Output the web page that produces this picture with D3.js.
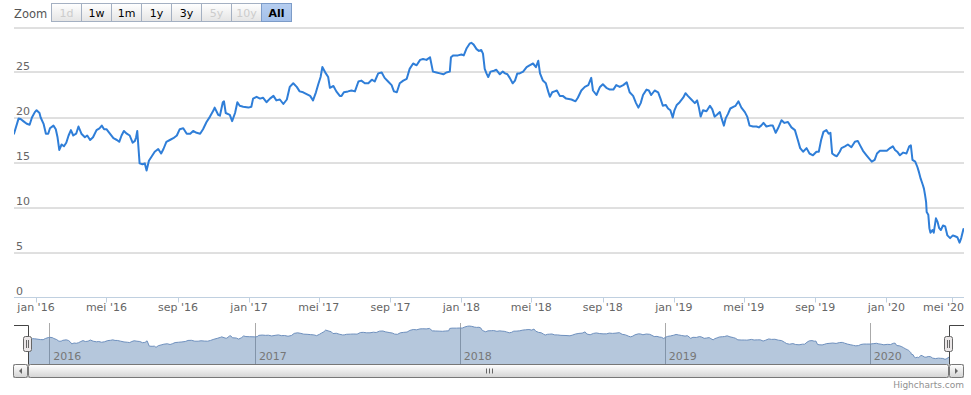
<!DOCTYPE html>
<html>
<head>
<meta charset="utf-8">
<script src="https://cdn.jsdelivr.net/npm/d3@7"></script>
<style>
  body { margin: 0; background: #fff; }
  svg { display: block; font-family: "DejaVu Sans", Verdana, sans-serif; }
</style>
</head>
<body>
<svg id="chart" width="971" height="395"></svg>
<script>
// koers
const dates = [
  '2015-11-24','2015-12-02','2015-12-06','2015-12-10','2015-12-16','2015-12-21','2015-12-25','2015-12-30',
  '2016-01-02','2016-01-07','2016-01-09','2016-01-14','2016-01-18','2016-01-22','2016-01-25','2016-01-31',
  '2016-02-04','2016-02-07','2016-02-10','2016-02-14','2016-02-18','2016-02-22','2016-02-26','2016-03-01',
  '2016-03-05','2016-03-10','2016-03-14','2016-03-19','2016-03-25','2016-03-29','2016-04-03','2016-04-08',
  '2016-04-14','2016-04-19','2016-04-23','2016-04-27','2016-05-01','2016-05-07','2016-05-13','2016-05-19',
  '2016-05-23','2016-05-27','2016-05-31','2016-06-05','2016-06-10','2016-06-15','2016-06-19','2016-06-21',
  '2016-06-23','2016-06-27','2016-07-02','2016-07-06','2016-07-09','2016-07-13','2016-07-18','2016-07-23',
  '2016-07-29','2016-08-03','2016-08-07','2016-08-12','2016-08-18','2016-08-24','2016-08-30','2016-09-04',
  '2016-09-10','2016-09-16','2016-09-22','2016-09-27','2016-10-03','2016-10-09','2016-10-14','2016-10-20',
  '2016-10-26','2016-11-01','2016-11-03','2016-11-09','2016-11-12','2016-11-17','2016-11-19','2016-11-22',
  '2016-11-29','2016-12-03','2016-12-08','2016-12-12','2016-12-16','2016-12-22','2016-12-31','2017-01-05',
  '2017-01-08','2017-01-14','2017-01-20','2017-01-25','2017-01-31','2017-02-06','2017-02-12','2017-02-17',
  '2017-02-23','2017-03-01','2017-03-07','2017-03-12','2017-03-18','2017-03-24','2017-03-29','2017-04-04',
  '2017-04-10','2017-04-16','2017-04-21','2017-04-26','2017-04-30','2017-05-04','2017-05-07','2017-05-13',
  '2017-05-17','2017-05-20','2017-05-26','2017-05-31','2017-06-06','2017-06-09','2017-06-13','2017-06-20',
  '2017-06-26','2017-07-02','2017-07-08','2017-07-13','2017-07-19','2017-07-25','2017-07-31','2017-08-05',
  '2017-08-11','2017-08-17','2017-08-22','2017-08-28','2017-09-03','2017-09-07','2017-09-12','2017-09-17',
  '2017-09-23','2017-09-29','2017-10-04','2017-10-10','2017-10-16','2017-10-22','2017-10-27','2017-11-02',
  '2017-11-08','2017-11-13','2017-11-19','2017-11-25','2017-12-01','2017-12-06','2017-12-12','2017-12-14',
  '2017-12-18','2017-12-26','2018-01-01','2018-01-05','2018-01-10','2018-01-15','2018-01-18','2018-01-22',
  '2018-01-27','2018-01-31','2018-02-04','2018-02-07','2018-02-10','2018-02-13','2018-02-16','2018-02-20',
  '2018-02-26','2018-03-02','2018-03-08','2018-03-13','2018-03-17','2018-03-21','2018-03-25','2018-03-30',
  '2018-04-03','2018-04-07','2018-04-11','2018-04-17','2018-04-23','2018-04-28','2018-05-04','2018-05-09',
  '2018-05-13','2018-05-16','2018-05-21','2018-05-26','2018-05-30','2018-06-02','2018-06-06','2018-06-10',
  '2018-06-14','2018-06-19','2018-06-24','2018-06-30','2018-07-09','2018-07-16','2018-07-20','2018-07-26',
  '2018-08-01','2018-08-07','2018-08-12','2018-08-15','2018-08-21','2018-08-27','2018-09-01','2018-09-07',
  '2018-09-13','2018-09-19','2018-09-24','2018-09-30','2018-10-06','2018-10-12','2018-10-17','2018-10-23',
  '2018-10-28','2018-11-01','2018-11-05','2018-11-09','2018-11-15','2018-11-19','2018-11-23','2018-11-29',
  '2018-12-05','2018-12-09','2018-12-13','2018-12-18','2018-12-22','2018-12-26','2018-12-30','2019-01-02',
  '2019-01-06','2019-01-11','2019-01-17','2019-01-21','2019-01-25','2019-01-31','2019-02-06','2019-02-10',
  '2019-02-13','2019-02-16','2019-02-20','2019-02-26','2019-03-04','2019-03-08','2019-03-12','2019-03-16',
  '2019-03-21','2019-03-24','2019-03-28','2019-03-31','2019-04-04','2019-04-08','2019-04-14','2019-04-17',
  '2019-04-22','2019-04-27','2019-05-03','2019-05-07','2019-05-11','2019-05-17','2019-05-23','2019-05-27',
  '2019-05-31','2019-06-04','2019-06-09','2019-06-15','2019-06-20','2019-06-25','2019-06-29','2019-07-05',
  '2019-07-10','2019-07-16','2019-07-22','2019-07-28','2019-08-02','2019-08-06','2019-08-11','2019-08-17',
  '2019-08-22','2019-08-28','2019-09-03','2019-09-07','2019-09-11','2019-09-15','2019-09-20','2019-09-24',
  '2019-09-27','2019-09-30','2019-10-04','2019-10-08','2019-10-13','2019-10-16','2019-10-22','2019-10-27',
  '2019-11-02','2019-11-08','2019-11-13','2019-11-17','2019-11-22','2019-11-28','2019-12-03','2019-12-07',
  '2019-12-12','2019-12-16','2019-12-21','2019-12-26','2020-01-02','2020-01-08','2020-01-13','2020-01-17',
  '2020-01-21','2020-01-26','2020-02-01','2020-02-07','2020-02-12','2020-02-15','2020-02-18','2020-02-23',
  '2020-02-27','2020-03-01','2020-03-04','2020-03-08','2020-03-10','2020-03-12','2020-03-14','2020-03-15',
  '2020-03-18','2020-03-20','2020-03-22','2020-03-26','2020-03-28','2020-04-01','2020-04-04','2020-04-07',
  '2020-04-10','2020-04-14','2020-04-18','2020-04-22','2020-04-27','2020-05-02','2020-05-06','2020-05-10',
  '2020-05-14','2020-05-17','2020-05-21'
];

const prices = [
  18.2, 19.9, 19.8, 19.6, 19.3, 19.2, 20.0, 20.6,
  20.8, 20.5, 20.0, 19.3, 18.2, 18.2, 18.8, 19.1,
  18.7, 17.8, 16.4, 17.0, 16.8, 17.2, 18.0, 18.6,
  18.0, 18.2, 19.0, 18.2, 17.8, 18.0, 17.5, 17.8,
  18.6, 18.8, 19.1, 18.7, 18.7, 18.2, 17.7, 17.5,
  17.3, 18.0, 18.5, 18.2, 18.0, 17.2, 17.4, 17.8,
  18.5, 14.9, 14.8, 14.9, 14.1, 15.2, 15.7, 16.2,
  16.5, 16.0, 16.5, 17.3, 17.5, 17.7, 18.0, 18.7,
  18.8, 18.2, 18.2, 18.5, 18.3, 18.2, 18.7, 19.5,
  20.1, 20.8, 21.1, 20.3, 20.2, 21.7, 21.8, 20.5,
  20.3, 19.6, 20.5, 21.7, 21.3, 21.2, 21.1, 21.2,
  22.1, 22.3, 22.1, 22.2, 21.7, 22.1, 22.4, 21.9,
  22.0, 21.5, 22.0, 23.4, 23.8, 23.4, 22.9, 22.8,
  22.6, 22.4, 21.9, 22.8, 23.7, 24.5, 25.6, 24.9,
  24.5, 23.3, 23.5, 22.9, 22.4, 22.4, 22.8, 22.9,
  23.0, 22.9, 24.0, 24.1, 23.8, 23.8, 24.2, 24.0,
  24.9, 25.0, 24.4, 24.0, 23.6, 22.9, 22.8, 23.8,
  24.1, 24.3, 25.4, 26.0, 25.8, 26.4, 26.5, 26.4,
  26.7, 25.1, 25.0, 24.9, 24.8, 25.0, 25.1, 26.7,
  26.9, 26.9, 27.0, 26.9, 27.7, 28.2, 28.3, 28.1,
  27.6, 27.4, 27.5, 27.1, 25.4, 24.9, 24.5, 25.1,
  25.2, 25.3, 24.8, 25.1, 24.9, 24.8, 24.4, 23.8,
  24.1, 24.9, 24.9, 25.1, 25.6, 25.8, 26.0, 25.6,
  26.3, 24.9, 24.1, 23.8, 22.9, 22.3, 22.8, 22.9,
  23.0, 22.4, 22.4, 22.1, 22.0, 21.8, 22.2, 23.0,
  23.4, 23.6, 24.4, 23.0, 22.5, 23.4, 23.7, 23.3,
  23.1, 23.1, 23.6, 23.4, 23.6, 23.9, 22.8, 22.4,
  21.6, 21.1, 21.6, 22.5, 23.1, 23.0, 22.5, 23.0,
  22.8, 22.1, 21.3, 21.4, 21.0, 20.8, 20.0, 20.8,
  21.4, 21.7, 22.2, 22.7, 22.4, 22.0, 21.6, 21.9,
  21.1, 20.1, 20.8, 20.7, 21.3, 20.9, 20.1, 20.3,
  20.6, 19.9, 19.1, 19.9, 20.4, 21.0, 21.2, 21.3,
  21.8, 21.1, 20.6, 20.1, 19.1, 19.0, 19.0, 18.9,
  19.1, 19.4, 19.0, 19.1, 19.1, 18.3, 18.8, 19.7,
  19.4, 19.5, 18.9, 18.6, 17.5, 16.6, 16.2, 16.6,
  16.0, 15.8, 16.2, 16.2, 17.5, 18.4, 18.6, 18.2,
  18.3, 16.0, 15.8, 15.7, 16.2, 16.6, 16.8, 17.0,
  16.7, 17.3, 17.4, 16.9, 16.3, 15.8, 15.4, 15.1,
  15.3, 16.0, 16.3, 16.3, 16.3, 16.6, 16.8, 16.4,
  16.2, 15.8, 16.1, 16.0, 16.8, 16.9, 15.3, 15.1,
  14.5, 13.9, 13.2, 12.5, 12.1, 11.4, 10.6, 9.5,
  9.2, 7.7, 7.2, 7.5, 7.2, 8.8, 8.4, 7.7,
  7.5, 8.0, 7.9, 6.9, 6.6, 6.9, 6.8, 6.7,
  6.1, 6.6, 7.6
];

const monthNames = ['jan', 'feb', 'mrt', 'apr', 'mei', 'jun', 'jul', 'aug', 'sep', 'okt', 'nov', 'dec'];
const yTicks = [0, 5, 10, 15, 20, 25, 30];
const zoomButtons = ['1d', '1w', '1m', '1y', '3y', '5y', '10y', 'All'];
const disabledButtons = ['1d', '5y', '10y'];
const selectedButton = 'All';
const navigatorYears = ['2016', '2017', '2018', '2019', '2020'];

const parse = d3.timeParse('%Y-%m-%d');
const data = dates.map((d, i) => ({ date: parse(d), value: prices[i] }));

const svg = d3.select('#chart');
const crisp = (v) => Math.round(v) + 0.5;

const plot = { left: 14, right: 964, top: 27.5, bottom: 297.5 };
const nav = { left: 28, right: 949, top: 325, bottom: 364 };

// stock axis is ordinal, so the last months are a bit squeezed: polylinear time scale
const x = d3
  .scaleTime()
  .domain([parse('2015-11-24'), parse('2016-01-01'), parse('2020-01-01'), parse('2020-05-01'), parse('2020-05-22')])
  .range([plot.left, 36, 886.3, 952.3, plot.right]);

const y = d3.scaleLinear().domain([0, 30]).range([plot.bottom, plot.top]);

const defs = svg.append('defs');
defs.append('clipPath').attr('id', 'plot-clip')
  .append('rect')
  .attr('x', plot.left).attr('y', plot.top - 5)
  .attr('width', plot.right - plot.left).attr('height', plot.bottom - plot.top + 5);

function gradient(id, stops) {
  const g = defs.append('linearGradient').attr('id', id)
    .attr('x1', 0).attr('y1', 0).attr('x2', 0).attr('y2', 1);
  stops.forEach(([o, c]) => g.append('stop').attr('offset', o).attr('stop-color', c));
}
gradient('btn-normal', [[0, '#FFFFFF'], [1, '#E4E4E4']]);
gradient('btn-select', [[0, '#B6CEF0'], [1, '#A3C0EA']]);
gradient('sb-bar', [[0, '#FFFFFF'], [1, '#D4D4D4']]);
gradient('sb-track', [[0, '#EEEEEE'], [1, '#FFFFFF']]);

// grid lines
svg.append('g')
  .selectAll('line')
  .data(yTicks.filter((v) => v > 0))
  .enter()
  .append('line')
  .attr('x1', plot.left)
  .attr('x2', plot.right)
  .attr('y1', (d) => crisp(y(d)) - 0.5)
  .attr('y2', (d) => crisp(y(d)) - 0.5)
  .style('stroke', '#C0C0C0')
  .style('stroke-width', 1);

// y labels (top one hidden, like the original)
svg.append('g')
  .selectAll('text')
  .data(yTicks.filter((v) => v < 30))
  .enter()
  .append('text')
  .attr('x', 16)
  .attr('y', (d) => y(d) - 3)
  .style('font-size', '11px')
  .style('fill', '#666')
  .text((d) => d);

// x axis
svg.append('line')
  .attr('x1', plot.left).attr('x2', plot.right)
  .attr('y1', plot.bottom).attr('y2', plot.bottom)
  .style('stroke', '#C0D0E0');

const xTicks = x.ticks(d3.timeMonth.every(4));
const xAxis = svg.append('g').attr('class', 'x-axis');
xAxis.selectAll('line')
  .data(xTicks)
  .enter()
  .append('line')
  .attr('x1', (d) => crisp(x(d)))
  .attr('x2', (d) => crisp(x(d)))
  .attr('y1', plot.bottom)
  .attr('y2', plot.bottom + 5)
  .style('stroke', '#C0D0E0');

xAxis.selectAll('text')
  .data(xTicks)
  .enter()
  .append('text')
  .attr('x', (d) => x(d))
  .attr('y', 311)
  .attr('text-anchor', 'middle')
  .style('font-size', '11px')
  .style('fill', '#666')
  .text((d) => `${monthNames[d.getMonth()]} '${String(d.getFullYear()).slice(2)}`)
  .each(function () {
    // keep the last label inside the chart
    const w = this.getComputedTextLength();
    const cx = +this.getAttribute('x');
    if (cx + w / 2 > plot.right) this.setAttribute('x', plot.right - w / 2);
  });

// price line
const line = d3.line().x((d) => x(d.date)).y((d) => y(d.value));
svg.append('path')
  .datum(data)
  .attr('clip-path', 'url(#plot-clip)')
  .attr('d', line)
  .style('fill', 'none')
  .style('stroke', '#2F7ED8')
  .style('stroke-width', 2)
  .style('stroke-linejoin', 'round')
  .style('stroke-linecap', 'round');

// range selector
svg.append('text')
  .attr('x', 14)
  .attr('y', 18)
  .style('font-size', '11.5px')
  .style('fill', '#555')
  .text('Zoom');

const buttons = svg.append('g')
  .selectAll('g')
  .data(zoomButtons)
  .enter()
  .append('g')
  .attr('transform', (d, i) => `translate(${51.5 + i * 30},3.5)`);

buttons.append('rect')
  .attr('width', 30)
  .attr('height', 18)
  .style('fill', (d) => (d === selectedButton ? 'url(#btn-select)' : 'url(#btn-normal)'))
  .style('stroke', (d) => (d === selectedButton ? '#7D9CC8' : '#A4B0C2'));

buttons.append('text')
  .attr('x', 15)
  .attr('y', 13.5)
  .attr('text-anchor', 'middle')
  .style('font-size', '11px')
  .style('font-weight', (d) => (d === selectedButton ? 'bold' : 'normal'))
  .style('fill', (d) => (disabledButtons.includes(d) ? '#CCC' : '#000'))
  .text((d) => d);

// navigator
const nx = d3.scaleTime()
  .domain(d3.extent(data, (d) => d.date))
  .range([nav.left, nav.right]);
const ny = d3.scaleLinear().domain([3, 29]).range([nav.bottom, nav.top]);

const navYears = navigatorYears.map((yr) => parse(`${yr}-01-01`));
svg.append('g')
  .selectAll('line')
  .data(navYears)
  .enter()
  .append('line')
  .attr('x1', (d) => crisp(nx(d)))
  .attr('x2', (d) => crisp(nx(d)))
  .attr('y1', nav.top - 2)
  .attr('y2', nav.bottom)
  .style('stroke', '#AAAAAA');

svg.append('path')
  .datum(data)
  .attr('d', d3.area().x((d) => nx(d.date)).y0(nav.bottom).y1((d) => ny(d.value)))
  .style('fill', '#4572A7')
  .style('fill-opacity', 0.4);

svg.append('path')
  .datum(data)
  .attr('d', d3.line().x((d) => nx(d.date)).y((d) => ny(d.value)))
  .style('fill', 'none')
  .style('stroke', '#6E90BE')
  .style('stroke-width', 1);

svg.append('g')
  .selectAll('text')
  .data(navYears)
  .enter()
  .append('text')
  .attr('x', (d) => nx(d) + 4)
  .attr('y', 360)
  .style('font-size', '11px')
  .style('fill', '#777')
  .text((d, i) => navigatorYears[i]);

// scrollbar
const sbTop = nav.bottom + 0.5;
const sbH = 13;
svg.append('rect')
  .attr('x', plot.left - 0.5).attr('y', sbTop)
  .attr('width', plot.right - plot.left).attr('height', sbH)
  .style('fill', 'url(#sb-track)').style('stroke', '#CCC');

svg.append('rect')
  .attr('x', nav.left + 0.5).attr('y', sbTop)
  .attr('width', nav.right - nav.left - 1).attr('height', sbH)
  .attr('rx', 2)
  .style('fill', 'url(#sb-bar)').style('stroke', '#777');

const midX = Math.round((nav.left + nav.right) / 2);
[-3, 0, 3].forEach((dx) => {
  svg.append('line')
    .attr('x1', midX + dx + 0.5).attr('x2', midX + dx + 0.5)
    .attr('y1', sbTop + 4).attr('y2', sbTop + 9)
    .style('stroke', '#666');
});

[[plot.left - 0.5, -1], [nav.right + 0.5, 1]].forEach(([bx, dir]) => {
  svg.append('rect')
    .attr('x', bx).attr('y', sbTop)
    .attr('width', 14).attr('height', sbH)
    .attr('rx', 2)
    .style('fill', 'url(#sb-bar)').style('stroke', '#777');
  const cx = bx + 7;
  const cy = sbTop + sbH / 2;
  svg.append('path')
    .attr('d', `M${cx - 1.5 * dir},${cy - 3}L${cx + 1.5 * dir},${cy}L${cx - 1.5 * dir},${cy + 3}Z`)
    .style('fill', '#666');
});

// navigator outline
svg.append('path')
  .attr('d', `M${plot.left},${nav.top + 0.5}L${nav.left + 0.5},${nav.top + 0.5}L${nav.left + 0.5},${nav.bottom + 0.5}` +
    `M${nav.right + 0.5},${nav.bottom + 0.5}L${nav.right + 0.5},${nav.top + 0.5}L${plot.right},${nav.top + 0.5}`)
  .style('fill', 'none')
  .style('stroke', '#444');

// handles
[nav.left, nav.right].forEach((hx) => {
  const g = svg.append('g').attr('transform', `translate(${hx},336)`);
  g.append('rect')
    .attr('x', -4.5).attr('y', 0.5)
    .attr('width', 8).attr('height', 15)
    .attr('rx', 2)
    .style('fill', '#EBE7E8').style('stroke', '#666');
  g.append('path')
    .attr('d', 'M-1.5,4L-1.5,12M0.5,4L0.5,12')
    .style('stroke', '#666');
});

// credits
svg.append('text')
  .attr('x', plot.right)
  .attr('y', 388)
  .attr('text-anchor', 'end')
  .style('font-size', '9px')
  .style('fill', '#909090')
  .text('Highcharts.com');
</script>
</body>
</html>
